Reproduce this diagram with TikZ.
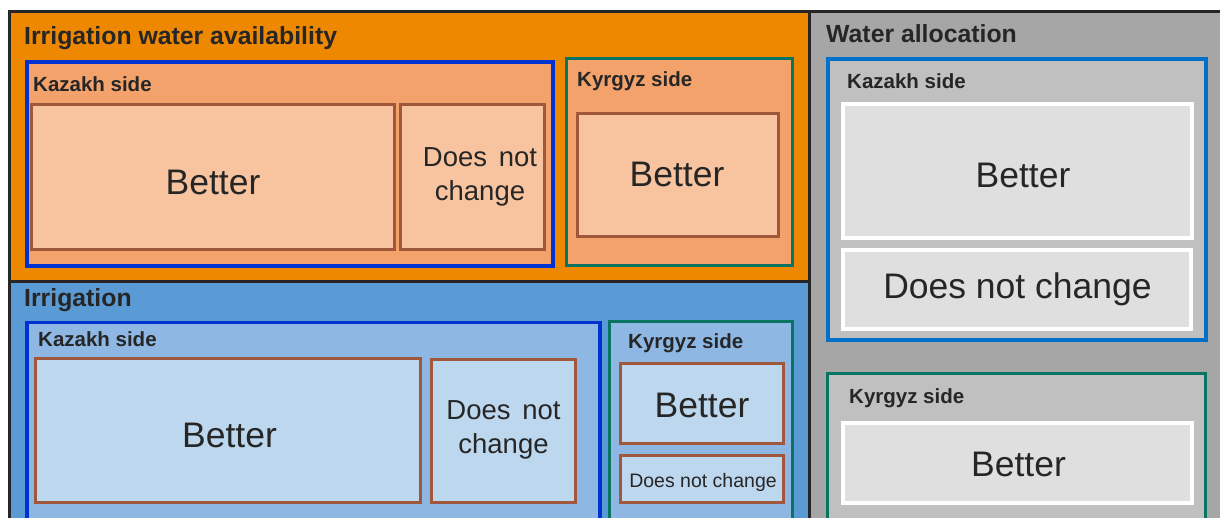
\documentclass[tikz,border=0pt]{standalone}
\usepackage{fontspec}
\setmainfont{Liberation Sans}
\usetikzlibrary{fit}

\definecolor{frame}{HTML}{262626}
\definecolor{ink}{HTML}{262626}
\definecolor{orangeA}{HTML}{EE8800}
\definecolor{orangeB}{HTML}{F3A26C}
\definecolor{orangeC}{HTML}{F8C4A0}
\definecolor{blueA}{HTML}{5B9BD5}
\definecolor{blueB}{HTML}{8EB8E3}
\definecolor{blueC}{HTML}{BDD7EE}
\definecolor{grayA}{HTML}{A6A6A6}
\definecolor{grayB}{HTML}{C0C0C0}
\definecolor{grayC}{HTML}{DFDFDF}
\definecolor{kzline}{HTML}{0032D2}
\definecolor{kzlineB}{HTML}{0070C8}
\definecolor{kgline}{HTML}{0A7462}
\definecolor{cellline}{HTML}{A0583C}

\begin{document}
\begin{tikzpicture}[x=1pt,y=-1pt,
  box/.style={inner sep=0pt, outer sep=0pt},
  region/.style={box, draw=frame, line width=3.2pt},
  kzframe/.style={box, draw=kzline, line width=3.5pt},
  kgframe/.style={box, draw=kgline, line width=3pt},
  cell/.style={box, draw=cellline, line width=3pt},
  graycell/.style={box, draw=white, line width=4pt, fill=grayC},
  title/.style={anchor=base west, inner sep=0pt, text=ink,
    font=\bfseries\fontsize{24.8}{28}\selectfont},
  sidelabel/.style={anchor=base west, inner sep=0pt, text=ink,
    font=\bfseries\fontsize{20.5}{24}\selectfont},
  big/.style={anchor=base, inner sep=0pt, text=ink,
    font=\fontsize{35.5}{40}\selectfont},
  twoline/.style={anchor=center, inner sep=0pt, text=ink, align=center,
    font=\fontsize{27.5}{33.5}\selectfont},
  small/.style={anchor=base, inner sep=0pt, text=ink,
    font=\fontsize{19.5}{22}\selectfont}
]
\useasboundingbox (0,0) rectangle (1220,518);
\fill[white] (0,0) rectangle (1220,518);
\clip (0,0) rectangle (1220,518);

% ---------- Irrigation water availability ----------
\node[region, fill=orangeA, fit={(9.5,11.5) (809.5,281.5)}] (iwa) {};
\node[title] (iwaT) at (24,45) {Irrigation water availability};

\node[kzframe, fill=orangeB, fit={(27,62) (553,266)}] (iwaKz) {};
\node[sidelabel] (iwaKzT) at (33,92) {Kazakh side};
\node[cell, fill=orangeC, fit={(31,105) (394,250)}] (iwaKzB) {};
\node[big] (iwaKzBT) at (213,195) {Better};
\node[cell, fill=orangeC, fit={(400,105) (544.5,250)}] (iwaKzN) {};
\node[twoline] (iwaKzNT) at (480,177) {Does\hspace{4pt} not\\change};

\node[kgframe, fill=orangeB, fit={(566,59) (792,266)}] (iwaKg) {};
\node[sidelabel] (iwaKgT) at (577,86.5) {Kyrgyz side};
\node[cell, fill=orangeC, fit={(577,114) (778,237)}] (iwaKgB) {};
\node[big] (iwaKgBT) at (677,186.7) {Better};

% ---------- Irrigation ----------
\node[region, fill=blueA, fit={(9.5,281.5) (809.5,545)}] (irr) {};
\node[title] (irrT) at (24,307) {Irrigation};

\node[kzframe, fill=blueB, fit={(27,322.5) (600,519.5)}] (irrKz) {};
\node[sidelabel] (irrKzT) at (38,347) {Kazakh side};
\node[cell, fill=blueC, fit={(35,358) (420,502)}] (irrKzB) {};
\node[big] (irrKzBT) at (229.5,447.3) {Better};
\node[cell, fill=blueC, fit={(431,359) (575,502)}] (irrKzN) {};
\node[twoline] (irrKzNT) at (503.5,430) {Does\hspace{4pt} not\\change};

\node[kgframe, fill=blueB, fit={(609,322) (792,519.5)}] (irrKg) {};
\node[sidelabel] (irrKgT) at (628,348.3) {Kyrgyz side};
\node[cell, fill=blueC, fit={(620,363) (783,443)}] (irrKgB) {};
\node[big] (irrKgBT) at (702,417.3) {Better};
\node[cell, fill=blueC, fit={(620,455) (783,502)}] (irrKgN) {};
\node[small] (irrKgNT) at (703,487.5) {Does not change};

% ---------- Water allocation ----------
\node[region, fill=grayA, fit={(809.5,11.5) (1245,545)}] (wal) {};
\node[title] (walT) at (826,42.5) {Water allocation};

\node[kzframe, draw=kzlineB, fill=grayB, fit={(828,59) (1206,340)}] (walKz) {};
\node[sidelabel] (walKzT) at (847,89) {Kazakh side};
\node[graycell, fit={(843,104) (1192,238)}] (walKzB) {};
\node[big] (walKzBT) at (1023,188) {Better};
\node[graycell, fit={(843,250) (1191,329)}] (walKzN) {};
\node[big] (walKzNT) at (1017.5,299) {Does not change};

\node[kgframe, fill=grayB, fit={(827.5,373.5) (1205.5,519.5)}] (walKg) {};
\node[sidelabel] (walKgT) at (849,403) {Kyrgyz side};
\node[graycell, fit={(843,423) (1192,503)}] (walKgB) {};
\node[big] (walKgBT) at (1018.5,476.7) {Better};
\end{tikzpicture}
\end{document}
